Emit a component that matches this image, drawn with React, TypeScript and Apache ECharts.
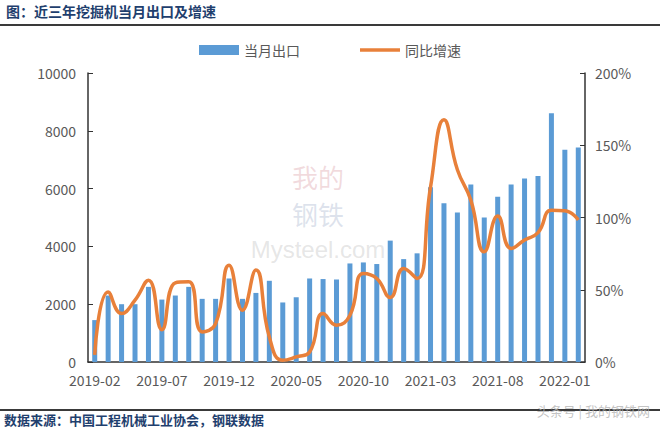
import React, { useEffect, useRef } from "react";
import * as echarts from "echarts";

const months: string[] = [
  "2019-02","2019-03","2019-04","2019-05","2019-06","2019-07","2019-08","2019-09","2019-10","2019-11","2019-12",
  "2020-01","2020-02","2020-03","2020-04","2020-05","2020-06","2020-07","2020-08","2020-09","2020-10","2020-11","2020-12",
  "2021-01","2021-02","2021-03","2021-04","2021-05","2021-06","2021-07","2021-08","2021-09","2021-10","2021-11","2021-12",
  "2022-01","2022-02",
];

const monthlyExport: number[] = [
  1450, 2300, 2000, 2000, 2600, 2160, 2300, 2600, 2185, 2185, 2890,
  2185, 2390, 2810, 2060, 2240, 2890, 2870, 2855, 3410, 3445, 3390, 4200,
  3560, 3760, 6050, 5490, 5170, 6140, 5000, 5720, 6140, 6350, 6440, 8610,
  7340, 7420,
];

const yoyGrowth: number[] = [
  5, 48.5, 33.5, 42.8, 56.6, 22.4, 54.8, 55.5, 20.8, 26.6, 67,
  35.8, 63.6, 17.3, 1.2, 3.5, 7, 33.5, 25.4, 32.4, 61.3, 57.8, 44.6,
  64.7, 57.8, 121, 167.6, 133, 112, 76.3, 101, 78.6, 84.4, 89.5, 105,
  104.7, 98.3,
];

const leftTicks = { min: 0, max: 10000, interval: 2000 };
const rightTicks = { min: 0, max: 200, interval: 50 };

export default function App() {
  const ref = useRef<HTMLDivElement>(null);
  useEffect(() => {
    if (!ref.current) return;
    const chart = echarts.init(ref.current, null, { renderer: "svg" });
    const font = "'Noto Sans CJK SC', 'Noto Sans', sans-serif";
    chart.setOption({
      animation: false,
      backgroundColor: "#ffffff",
      textStyle: { fontFamily: font },
      legend: {
        top: 38,
        left: "center",
        itemGap: 60,
        itemWidth: 40,
        itemHeight: 10,
        textStyle: { fontSize: 14, color: "#595959", fontFamily: font },
        data: [
          { name: "当月出口", icon: "rect" },
          { name: "同比增速", icon: "path://M0,0 L40,0 L40,3.5 L0,3.5 Z" },
        ],
      },
      grid: { left: 88, right: 75, top: 73, bottom: 73 },
      xAxis: {
        type: "category",
        data: months,
        axisLine: { lineStyle: { color: "#333333", width: 1.5 } },
        axisTick: { show: false },
        axisLabel: {
          interval: 4,
          fontSize: 14,
          color: "#595959",
          margin: 11,
          fontFamily: font,
        },
      },
      yAxis: [
        {
          type: "value",
          ...leftTicks,
          splitLine: { show: false },
          axisLine: { show: true, lineStyle: { color: "#333333", width: 1.5 } },
          axisTick: { show: true, inside: true, length: 5, lineStyle: { color: "#333333" } },
          axisLabel: {
            fontSize: 14,
            color: "#595959",
            margin: 12,
            fontFamily: font,
            formatter: (v: number) => String(v),
          },
        },
        {
          type: "value",
          ...rightTicks,
          position: "right",
          splitLine: { show: false },
          axisLine: { show: true, lineStyle: { color: "#333333", width: 1.5 } },
          axisTick: { show: true, inside: true, length: 5, lineStyle: { color: "#333333" } },
          axisLabel: { fontSize: 14, color: "#595959", margin: 10, formatter: "{value}%", fontFamily: font },
        },
      ],
      series: [
        {
          name: "当月出口",
          type: "bar",
          data: monthlyExport,
          barWidth: 5,
          itemStyle: { color: "#5B9BD5" },
        },
        {
          name: "同比增速",
          type: "line",
          yAxisIndex: 1,
          data: yoyGrowth,
          smooth: 0.5,
          showSymbol: false,
          symbol: "none",
          lineStyle: { color: "#E8803A", width: 3.5 },
          itemStyle: { color: "#E8803A" },
        },
      ],
      graphic: [
        {
          type: "text",
          left: 6,
          top: 4,
          style: {
            text: "图：近三年挖掘机当月出口及增速",
            fontSize: 14,
            fontWeight: "bold",
            fill: "#1F3F6E",
            fontFamily: font,
          },
        },
        {
          type: "rect",
          shape: { x: 0, y: 24, width: 660, height: 2 },
          style: { fill: "#3a3a3a" },
        },
        {
          type: "text",
          x: 318,
          y: 176,
          style: {
            text: "我的",
            fontSize: 26,
            fill: "rgba(200,110,120,0.25)",
            fontFamily: font,
            align: "center",
            verticalAlign: "middle",
          },
          z: -1,
        },
        {
          type: "text",
          x: 318,
          y: 213,
          style: {
            text: "钢铁",
            fontSize: 26,
            fill: "rgba(120,140,180,0.25)",
            fontFamily: font,
            align: "center",
            verticalAlign: "middle",
          },
          z: -1,
        },
        {
          type: "text",
          x: 318,
          y: 249,
          style: {
            text: "Mysteel.com",
            fontSize: 24,
            fill: "rgba(170,170,170,0.3)",
            fontFamily: "Liberation Sans, Arial, sans-serif",
            align: "center",
            verticalAlign: "middle",
          },
          z: -1,
        },
        {
          type: "rect",
          shape: { x: 0, y: 409, width: 660, height: 2 },
          style: { fill: "#3a3a3a" },
        },
        {
          type: "text",
          left: 4,
          top: 413,
          style: {
            text: "数据来源：中国工程机械工业协会，钢联数据",
            fontSize: 13,
            fontWeight: "bold",
            fill: "#1F3F6E",
            fontFamily: font,
          },
        },
        {
          type: "text",
          right: 10,
          top: 404,
          style: {
            text: "头条号 | 我的钢铁网",
            fontSize: 13,
            fill: "rgba(180,180,180,0.8)",
            fontFamily: font,
          },
        },
      ],
    });
    return () => chart.dispose();
  }, []);
  return (
    <div
      ref={ref}
      style={{ position: "fixed", left: 0, top: 0, width: 660, height: 435 }}
    />
  );
}
